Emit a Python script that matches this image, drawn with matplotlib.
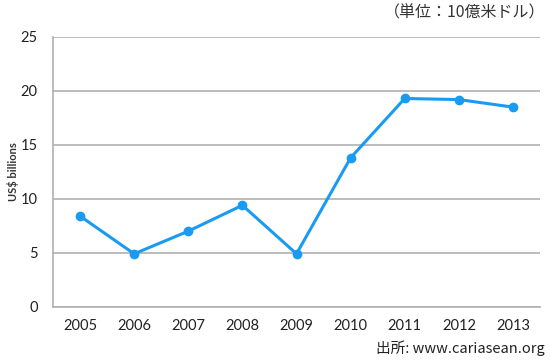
import matplotlib
matplotlib.use("Agg")
import matplotlib.pyplot as plt

years = ["2005", "2006", "2007", "2008", "2009", "2010", "2011", "2012", "2013"]
values = [8.4, 4.9, 7.0, 9.4, 4.9, 13.8, 19.3, 19.2, 18.5]
yticks = [0, 5, 10, 15, 20, 25]

plt.rcParams['font.family'] = ['Lato', 'Noto Sans CJK JP', 'DejaVu Sans']

fig = plt.figure(figsize=(5.5, 3.62), dpi=100)
ax = fig.add_axes([53/550, 1-306.7/362, (540-53)/550, (306.7-37)/362])

x = list(range(len(years)))
ax.plot(x, values, color='#1a9bf2', lw=2.2, marker='o', ms=6, zorder=3)
ax.set_xlim(-0.5, len(years)-0.5)
ax.set_ylim(0, 25)
ax.set_yticks(yticks)
ax.set_xticks(x)
ax.set_xticklabels(years)
ax.grid(axis='y', color='#b0b0b0', lw=1.2)
ax.set_axisbelow(True)
for s in ['top', 'right']:
    ax.spines[s].set_visible(False)
for s in ['left', 'bottom']:
    ax.spines[s].set_color('#b0b0b0')
    ax.spines[s].set_linewidth(1.2)
ax.tick_params(axis='y', length=0, labelsize=10.5, colors='#222222', pad=11)
ax.tick_params(axis='x', length=0, labelsize=10.5, colors='#222222', pad=9)
ax.set_ylabel('US$ billions', fontsize=8, fontweight='bold', color='#333333')
ax.yaxis.set_label_coords(-34/487, 0.5)

fig.text(545/550, 1-13/362, '（単位：10億米ドル）', ha='right', va='center', fontsize=11.5,
         family=['Noto Sans CJK JP', 'DejaVu Sans'], color='#333333')
fig.text(545/550, 1-348/362, '出所: www.cariasean.org', ha='right', va='center', fontsize=10.5,
         family=['Noto Sans CJK JP', 'DejaVu Sans'], color='#222222')

fig.savefig('out.png', dpi=100)
